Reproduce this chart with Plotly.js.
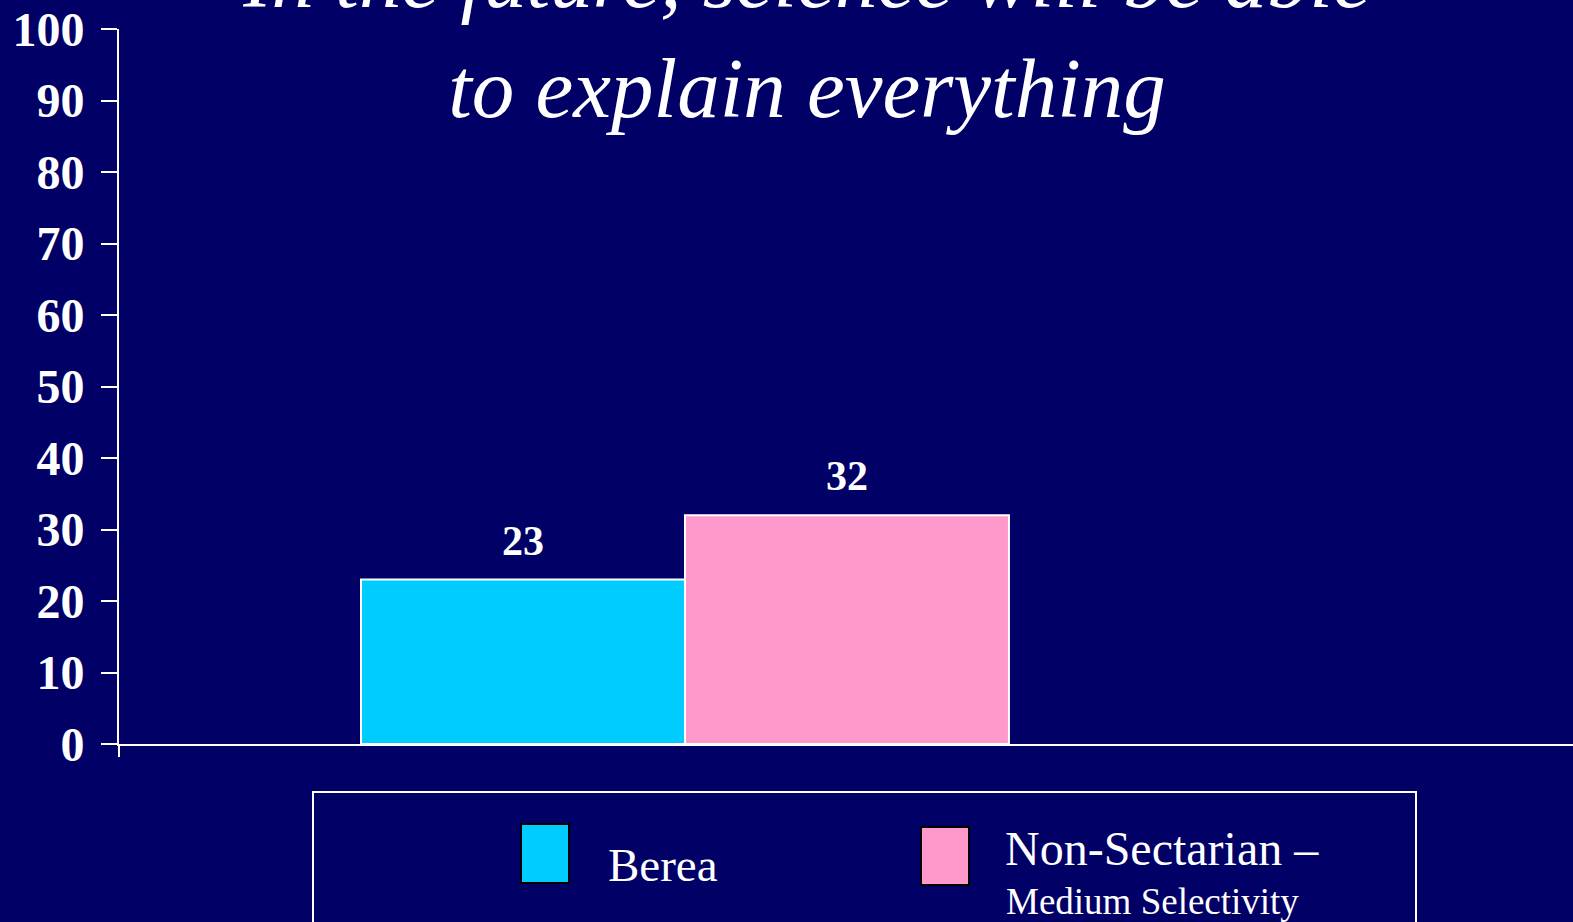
<!DOCTYPE html>
<html>
<head>
<meta charset="utf-8">
<script src="https://cdn.plot.ly/plotly-3.0.1.min.js"></script>
<style>html,body{margin:0;padding:0;background:#000066;overflow:hidden}#chart{width:1573px;height:922px}</style>
</head>
<body>
<div id="chart"></div>
<script>
// ---- data ----
const categories = ['In the future, science will be able to explain everything'];
const seriesNames = ['Berea', 'Non-Sectarian – Medium Selectivity'];
const legendMain = ['Berea', 'Non-Sectarian –'];
const legendSub = ['', 'Medium Selectivity'];
const bereaValues = [23];
const nonSectarianValues = [32];
const yTickValues = [0, 10, 20, 30, 40, 50, 60, 70, 80, 90, 100];
const titleLines = ['In the future, science will be able', 'to explain everything'];

// ---- layout geometry ----
const W = 1573, H = 922;
const M = {l: 119, r: 0, t: 29, b: 178};
const PW = W - M.l - M.r, PH = H - M.t - M.b;
const px = X => (X - M.l) / PW;
const py = Y => (H - M.b - Y) / PH;

const BG = '#000066';
const colors = ['#00CCFF', '#FF99CC'];
const serif = '"Liberation Serif", "Times New Roman", serif';
const bargap = 0.4276;
const xRange = [-0.5, 0.7845];

const seriesValues = [bereaValues, nonSectarianValues];
const traces = seriesValues.map((vals, i) => ({
  type: 'bar',
  name: seriesNames[i],
  x: categories,
  y: vals,
  marker: {color: colors[i], line: {color: '#FFFFFF', width: 2}},
  hoverinfo: 'skip'
}));

const barW = (1 - bargap) / seriesValues.length;
const annotations = [];
seriesValues.forEach((vals, i) => {
  const off = -(1 - bargap) / 2 + barW * (i + 0.5);
  vals.forEach((v, j) => {
    annotations.push({
      x: j + off, y: v, xref: 'x', yref: 'y',
      text: '<b>' + v + '</b>', showarrow: false,
      yanchor: 'bottom', yshift: 14,
      font: {family: serif, size: 42, color: '#FFFFFF'}
    });
  });
});

// legend text
const legTextX = [606, 1003];
const legTextY = [881, 865];
const legSize = [47, 48];
legendMain.forEach((t, i) => {
  annotations.push({
    xref: 'paper', yref: 'paper', x: px(legTextX[i]), y: py(legTextY[i]),
    xanchor: 'left', yanchor: 'bottom', yshift: -12,
    text: t, showarrow: false,
    font: {family: serif, size: legSize[i], color: '#FFFFFF'}
  });
  if (legendSub[i]) {
    annotations.push({
      xref: 'paper', yref: 'paper', x: px(1004), y: py(915),
      xanchor: 'left', yanchor: 'bottom', yshift: -9,
      text: legendSub[i], showarrow: false,
      font: {family: serif, size: 37, color: '#FFFFFF'}
    });
  }
});

const swatches = [[521, 824, 569, 883], [921, 827, 969, 885]];
const shapes = [
  {type: 'rect', xref: 'paper', yref: 'paper', x0: px(313), x1: px(1416), y0: py(792), y1: py(960),
   line: {color: '#FFFFFF', width: 2}, fillcolor: 'rgba(0,0,0,0)'},
  {type: 'line', xref: 'paper', yref: 'paper', x0: 0, x1: 0, y0: py(744), y1: py(757),
   line: {color: '#FFFFFF', width: 2}}
];
swatches.forEach((s, i) => shapes.push({
  type: 'rect', xref: 'paper', yref: 'paper', x0: px(s[0]), x1: px(s[2]), y0: py(s[3]), y1: py(s[1]),
  line: {color: '#000000', width: 2}, fillcolor: colors[i]
}));

const layout = {
  width: W, height: H,
  margin: M,
  paper_bgcolor: BG, plot_bgcolor: BG,
  showlegend: false,
  barmode: 'group', bargap: bargap, bargroupgap: 0,
  title: {
    text: '<i>' + titleLines.join('<br>') + '</i>',
    font: {family: serif, size: 85, color: '#FFFFFF'},
    x: 807 / W, xanchor: 'center', xref: 'container',
    y: 1 - 7 / H, yanchor: 'bottom', yref: 'container'
  },
  xaxis: {
    type: 'category', range: xRange, showticklabels: false, ticks: '',
    showline: true, linecolor: '#FFFFFF', linewidth: 2, showgrid: false, zeroline: false, fixedrange: true
  },
  yaxis: {
    range: [0, 100], tickvals: yTickValues, ticks: 'outside', ticklen: 16, tickwidth: 2, tickcolor: '#FFFFFF',
    ticklabelstandoff: 7,
    showline: true, linecolor: '#FFFFFF', linewidth: 2, showgrid: false, zeroline: false,
    tickfont: {family: serif, size: 48, color: '#FFFFFF', weight: 'bold'}, fixedrange: true
  },
  annotations: annotations,
  shapes: shapes
};

Plotly.newPlot('chart', traces, layout, {displayModeBar: false, staticPlot: true});
</script>
</body>
</html>
